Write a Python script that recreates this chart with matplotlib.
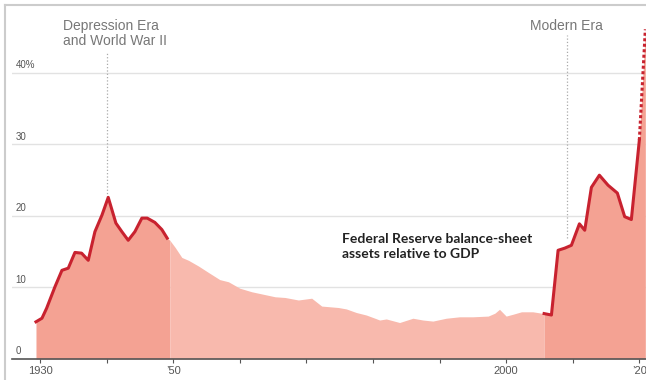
import numpy as np
import matplotlib
matplotlib.use('Agg')
import matplotlib.pyplot as plt
from matplotlib.lines import Line2D

# Fed balance-sheet assets as % of GDP
years = [1929.4, 1930.3, 1931.0, 1932.25, 1933.3, 1934.25, 1935.25, 1936.25, 1937.25,
         1938.25, 1939.3, 1940.25, 1941.4, 1942.3, 1943.25, 1944.25, 1945.3, 1946.1,
         1947.25, 1948.3, 1949.1, 1949.5,
         1950.3, 1951.3, 1952.3, 1953.8, 1955.3, 1957.0, 1958.3, 1960.0, 1961.8, 1963.3,
         1965.3, 1966.8, 1968.8, 1970.8, 1972.3, 1974.8, 1976.0, 1977.5, 1979.0, 1980.3,
         1981.0, 1982.0, 1984.0, 1986.0, 1987.5, 1989.0, 1991.0, 1993.0, 1995.0, 1997.3,
         1998.3, 1999.0, 2000.0, 2001.0, 2002.3, 2004.0, 2005.7,
         2006.8, 2007.8, 2008.8, 2009.8, 2011.0, 2011.8, 2012.8, 2014.0, 2015.3, 2016.7,
         2017.8, 2018.8, 2020.0, 2020.9]
assets = [5.2, 5.7, 7.1, 10.1, 12.4, 12.7, 14.9, 14.8, 13.8,
          17.8, 20.1, 22.6, 19.0, 17.8, 16.6, 17.8, 19.7, 19.7,
          19.1, 18.1, 16.9, 16.6,
          15.6, 14.2, 13.8, 13.0, 12.1, 11.1, 10.8, 9.9, 9.4, 9.1,
          8.7, 8.6, 8.25, 8.5, 7.4, 7.2, 7.0, 6.5, 6.15, 5.7,
          5.45, 5.6, 5.1, 5.7, 5.45, 5.3, 5.7, 5.9, 5.9, 6.0,
          6.4, 6.95, 6.0, 6.25, 6.6, 6.6, 6.35,
          6.15, 15.2, 15.5, 15.9, 18.9, 18.0, 24.0, 25.7, 24.3, 23.2,
          19.9, 19.5, 30.6, 46.1]

era1_end = 1949.5      # end of Depression / WWII highlight
era2_start = 2005.7    # start of modern-era highlight
estimate_from = 2020.0  # last segment drawn dotted

x_ticks = list(range(1930, 2030, 10))
x_labels = ['1930', '', '\u201950', '', '', '', '', '2000', '', '\u201920']
y_ticks = [0, 10, 20, 30, 40]
y_labels = ['0', '10', '20', '30', '40%']

dark = '#f4a293'
light = '#f8b9ad'
red = '#c8222f'
grey = '#777777'
narrow = ['Liberation Sans Narrow', 'Liberation Sans', 'DejaVu Sans']

x = np.array(years)
y = np.array(assets)

fig = plt.figure(figsize=(6.46, 3.8), dpi=100)
ax = fig.add_axes([12 / 646, 21 / 380, 634 / 646, 339 / 380])

for v in y_ticks[1:]:
    ax.axhline(v, color='#e2e2e2', lw=1, zorder=0)

m1 = x <= era1_end
m2 = (x >= era1_end) & (x <= era2_start)
m3 = x >= era2_start
ax.fill_between(x[m1], 0, y[m1], color=dark, lw=0, zorder=1)
ax.fill_between(x[m2], 0, y[m2], color=light, lw=0, zorder=1)
ax.fill_between(x[m3], 0, y[m3], color=dark, lw=0, zorder=1)

ax.plot(x[x <= era1_end - 0.3], y[x <= era1_end - 0.3], color=red, lw=2.2,
        solid_joinstyle='round', zorder=3)
solid = m3 & (x <= estimate_from)
ax.plot(x[solid], y[solid], color=red, lw=2.2, solid_joinstyle='round', zorder=3)
tail = x >= estimate_from
ax.plot(x[tail], y[tail], color=red, lw=2.2, ls=(0, (1, 0.8)), zorder=3)

ax.set_xlim(1925.8, 2021.0)
ax.set_ylim(0, 47.4)

for s in ['left', 'right', 'top']:
    ax.spines[s].set_visible(False)
ax.spines['bottom'].set_color('#555555')
ax.spines['bottom'].set_linewidth(1.2)
ax.spines['bottom'].set_zorder(4)

ax.set_yticks([])
ax.set_xticks(x_ticks)
ax.set_xticklabels(x_labels, family=narrow, fontsize=8, color='#555555')
ax.tick_params(axis='x', length=3, width=0.8, color='#555555', pad=2)

for v, lab in zip(y_ticks, y_labels):
    ax.text(0.006, v + 0.4, lab, transform=ax.get_yaxis_transform(),
            ha='left', va='bottom', fontsize=7, color='#555555', family=narrow)

# era markers
ax.plot([1940.1, 1940.1], [22.6, 42.8], color='#aaaaaa', lw=0.9, ls=':', zorder=2)
ax.text(1933.5, 47.6, 'Depression Era\nand World War II', ha='left', va='top',
        fontsize=10, color=grey, family=narrow, linespacing=1.1, clip_on=False)
ax.plot([2009.1, 2009.1], [16.9, 45.3], color='#aaaaaa', lw=0.9, ls=':', zorder=2)
ax.text(2009.1, 46.0, 'Modern Era', ha='center', va='baseline',
        fontsize=10, color=grey, family=narrow, clip_on=False)

ax.text(1975.4, 13.9, 'Federal Reserve balance-sheet\nassets relative to GDP',
        ha='left', va='bottom', fontsize=10, fontweight='bold', color='#222222',
        family=['Lato', 'DejaVu Sans'], linespacing=1.3)

# screenshot frame
fig.add_artist(Line2D([5 / 646, 5 / 646], [0, 1 - 5 / 380], transform=fig.transFigure,
                      color='#cccccc', lw=1.5))
fig.add_artist(Line2D([5 / 646, 1], [1 - 5 / 380, 1 - 5 / 380], transform=fig.transFigure,
                      color='#cccccc', lw=1.5))

fig.savefig('out.png', dpi=100)
